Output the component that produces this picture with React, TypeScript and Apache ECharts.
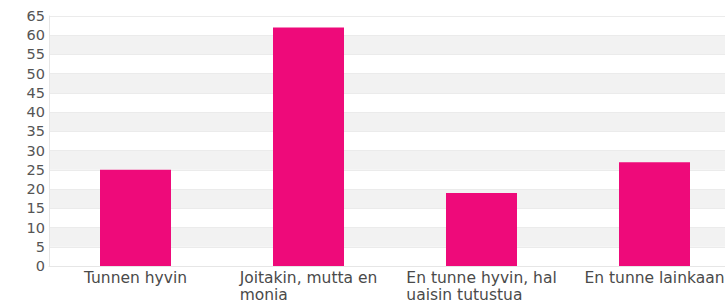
import React, { useEffect, useRef } from "react";
import * as echarts from "echarts";

const categories = [
  "Tunnen hyvin",
  "Joitakin, mutta en\nmonia",
  "En tunne hyvin, hal\nuaisin tutustua",
  "En tunne lainkaan",
];
const values = [25, 62, 19, 27];
const yMin = 0;
const yMax = 65;
const yInterval = 5;

const FONT = "DejaVu Sans, Verdana, sans-serif";

export default function App() {
  const ref = useRef<HTMLDivElement>(null);
  useEffect(() => {
    document.body.style.margin = "0";
    const chart = echarts.init(ref.current!, null, { renderer: "svg" });
    chart.setOption({
      animation: false,
      grid: { left: 49, top: 16, bottom: 42, right: 0 },
      xAxis: {
        type: "category",
        data: categories,
        axisLine: { show: true, lineStyle: { color: "#e6e6e6" } },
        axisTick: { show: false },
        axisLabel: {
          interval: 0,
          margin: 3,
          color: "#4a4a4a",
          fontFamily: FONT,
          fontSize: 15.5,
          lineHeight: 17.5,
          formatter: (v: string) =>
            v
              .split("\n")
              .map((s) => `{l|${s}}`)
              .join("\n"),
          rich: {
            l: {
              align: "left",
              color: "#4a4a4a",
              fontFamily: FONT,
              fontSize: 15.5,
              lineHeight: 17.5,
            },
          },
        },
      },
      yAxis: {
        type: "value",
        min: yMin,
        max: yMax,
        interval: yInterval,
        axisLine: { show: true, lineStyle: { color: "#e6e6e6" } },
        axisTick: { show: false },
        axisLabel: {
          margin: 4,
          color: "#555",
          fontFamily: FONT,
          fontSize: 14.5,
        },
        splitLine: { show: true, lineStyle: { color: "#ebebeb" } },
        splitArea: { show: true, areaStyle: { color: ["#ffffff", "#f2f2f2"] } },
      },
      series: [
        {
          type: "bar",
          data: values,
          barWidth: 71,
          itemStyle: { color: "#ee0a7a" },
        },
      ],
    });
    return () => chart.dispose();
  }, []);
  return (
    <div style={{ width: 725, height: 308, overflow: "hidden" }}>
      <div ref={ref} style={{ width: 741, height: 308 }} />
    </div>
  );
}
